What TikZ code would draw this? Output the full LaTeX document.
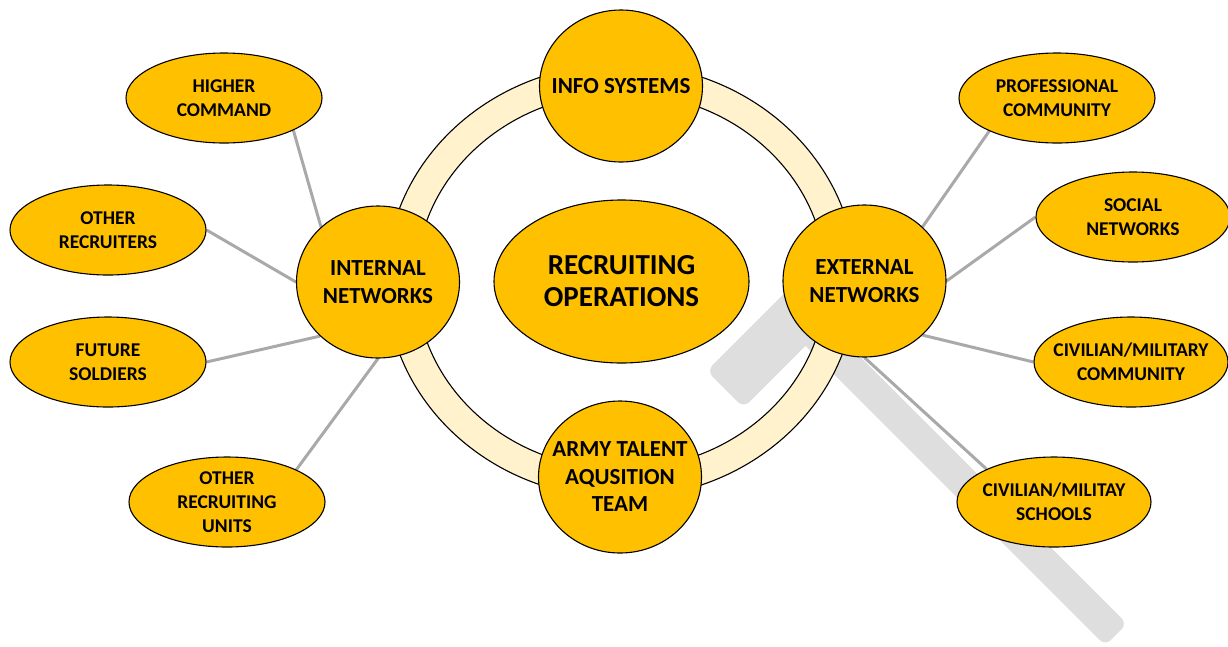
\documentclass[tikz,border=0pt]{standalone}
\usepackage{fontspec}
\setmainfont{Carlito}
\usetikzlibrary{shapes.geometric}
\pgfdeclarelayer{bgg}
\pgfdeclarelayer{bg}
\pgfsetlayers{bgg,bg,main}
\definecolor{gold}{HTML}{FFC000}
\definecolor{ringfill}{HTML}{FFF2CC}
\definecolor{lineclr}{HTML}{A9A9A9}
\definecolor{handleclr}{HTML}{DEDEDE}
\tikzset{
  blob/.style={ellipse, draw=black, line width=1.1pt, fill=gold, inner sep=-40pt,
    align=center},
  hub/.style={blob, minimum width=163, minimum height=152,
    font=\fontsize{23}{27.5}\selectfont\bfseries},
  leaf/.style={blob, minimum width=196, minimum height=90,
    font=\fontsize{19.5}{23.8}\selectfont\bfseries},
  core/.style={blob, minimum width=255, minimum height=163,
    font=\fontsize{29}{32}\selectfont\bfseries},
  link/.style={draw=lineclr, line width=3pt},
}
\begin{document}
\begin{tikzpicture}[x=1pt,y=-1pt]
\useasboundingbox (0,0) rectangle (1228,646);

% nodes
\node[core] (core) at (621.5,281.5) {RECRUITING\\OPERATIONS};
\node[hub] (info) at (621,86) {INFO SYSTEMS};
\node[hub] (army) at (620,477) {ARMY TALENT\\AQUSITION\\TEAM};
\node[hub] (int) at (378,282) {INTERNAL\\NETWORKS};
\node[hub] (ext) at (864.5,281) {EXTERNAL\\NETWORKS};

\node[leaf] (hc) at (224,98) {HIGHER\\COMMAND};
\node[leaf] (or) at (108,230) {OTHER\\RECRUITERS};
\node[leaf] (fs) at (108,362) {FUTURE\\SOLDIERS};
\node[leaf] (oru) at (227,502) {OTHER\\RECRUITING\\UNITS};

\node[leaf] (pc) at (1057,98) {PROFESSIONAL\\COMMUNITY};
\node[leaf, minimum width=194] (sn) at (1133,217) {SOCIAL\\NETWORKS};
\node[leaf, minimum width=194] (cmc) at (1131,362) {CIVILIAN/MILITARY\\COMMUNITY};
\node[leaf, minimum width=194] (cms) at (1054,502) {CIVILIAN/MILITAY\\SCHOOLS};

% handle and ring
\begin{pgfonlayer}{bgg}
  \begin{scope}[shift={(798,316.5)}, rotate=-45]
    \fill[handleclr, rounded corners=8pt] (0,-15.5) rectangle (450,15.5);
    \fill[handleclr, rounded corners=8pt] (-26,-103) rectangle (26,103);
  \end{scope}
  \coordinate (rc) at (621,281);
  \path[draw=black, line width=1.1pt, fill=ringfill, even odd rule]
    (rc) ellipse [x radius=235, y radius=217]
    (rc) ellipse [x radius=205, y radius=188];
\end{pgfonlayer}

% connectors
\begin{pgfonlayer}{bg}
  \draw[link] (hc.335) -- (int.136);
  \draw[link] (or.east) -- (int.west);
  \draw[link] (fs.east) -- (int.223);
  \draw[link] (oru.25) -- (int.south);
  \draw[link] (pc.206) -- (ext.43);
  \draw[link] (sn.west) -- (ext.east);
  \draw[link] (cmc.west) -- (ext.-43);
  \draw[link] (cms.154) -- (ext.south);
\end{pgfonlayer}
\end{tikzpicture}
\end{document}
